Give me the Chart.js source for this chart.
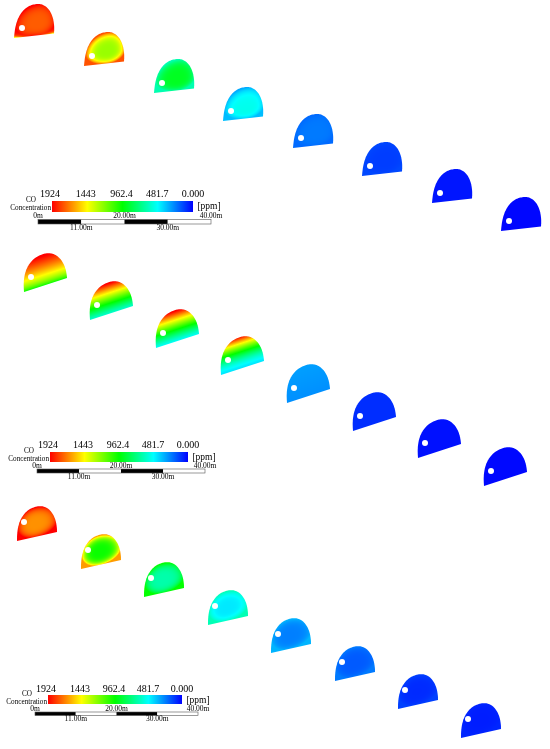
<!DOCTYPE html>
<html>
<head>
<meta charset="utf-8">
<style>
  html, body { margin: 0; padding: 0; background: #fff; }
  canvas { display: block; }
</style>
<script src="https://cdn.jsdelivr.net/npm/chart.js@4"></script>
</head>
<body>
<canvas id="tunnelChart" width="550" height="749"></canvas>
<script>
// base-left corner of every cross section, one list per panel
const topX = [14, 84, 154, 223, 293, 362, 432, 501];
const topY = [38, 66, 93, 121, 148, 176, 203, 231];
const midX = [24, 90, 156, 221, 287, 353, 418, 484];
const midY = [292, 320, 348, 375, 403, 431, 458, 486];
const lowX = [17, 81, 144, 208, 271, 335, 398, 461];
const lowY = [541, 569, 597, 625, 653, 681, 709, 738];

// CO in ppm: floor, crown, wall excess, floor corner drop
const topFloor = [1750, 1250, 900, 530, 230, 115, 40, 12];
const topCrown = [1750, 1250, 900, 490, 230, 115, 40, 12];
const topWall = [174, 520, -270, -170, -30, 20, 0, 0];
const topCorner = [-900, 0, 0, 0, 0, 0, 0, 0];
const midFloor = [850, 560, 480, 430, 270, 85, 30, 15];
const midCrown = [1950, 1950, 1950, 1850, 300, 85, 30, 15];
const midGamma = [0.6, 1.17, 1.2, 1.64, 1, 1, 1, 1];
const midWall = [0, 0, 0, 0, 0, 0, 0, 0];
const midCorner = [0, 0, 0, 0, 0, 0, 0, 0];
const lowFloor = [1650, 980, 640, 440, 240, 170, 80, 55];
const lowCrown = [1650, 980, 640, 440, 240, 170, 80, 55];
const lowWall = [274, 650, 330, 180, 100, 60, 40, 15];
const lowCorner = [0, 0, 0, 0, 0, 0, 0, 0];
const flatGamma = [1, 1, 1, 1, 1, 1, 1, 1];

const colorbarTicks = ['1924', '1443', '962.4', '481.7', '0.000'];
const colorbarPpm = [1924, 1443, 962.4, 481.7, 0];
const scaleUpper = ['0m', '20.00m', '40.00m'];
const scaleLower = ['11.00m', '30.00m'];

const panels = [
  { xs: topX, ys: topY, floor: topFloor, crown: topCrown, wall: topWall, corner: topCorner, gamma: flatGamma,
    base: [40, -4.5], up: [2.6, -31.7], hole: [8, -10], core: [0.55, 0.4],
    bar: [52, 193, 201, 212], tickY: 194, ruler: [38, 211, 219.5, 224] },
  { xs: midX, ys: midY, floor: midFloor, crown: midCrown, wall: midWall, corner: midCorner, gamma: midGamma,
    base: [43, -14], up: [-2.2, -31], hole: [7, -15], core: [0.5, 0.4],
    bar: [50, 188, 452, 462], tickY: 445, ruler: [37, 205, 469, 473] },
  { xs: lowX, ys: lowY, floor: lowFloor, crown: lowCrown, wall: lowWall, corner: lowCorner, gamma: flatGamma,
    base: [40, -9], up: [0, -30], hole: [7, -19], core: [0.45, 0.45],
    bar: [48, 182, 695, 704], tickY: 689, ruler: [35, 198, 712, 715.5] }
];

function ppmColor(v) {
  const f = Math.max(0, Math.min(1, v / 1924)) * 4;
  if (f < 1) return [0, 255 * f, 255];
  if (f < 2) return [0, 255, 255 * (2 - f)];
  if (f < 3) return [255 * (f - 2), 255, 0];
  return [255, 255 * (4 - f), 0];
}

// sprite with the section's base-left corner at its centre
function sectionSprite(panel, i) {
  const size = 130, o = size / 2;
  const field = document.createElement('canvas');
  field.width = field.height = size;
  const fctx = field.getContext('2d');
  const img = fctx.createImageData(size, size);
  const [bx, by] = panel.base, [ux, uy] = panel.up, [cs, ct] = panel.core;
  const det = bx * uy - by * ux;
  for (let py = 0; py < size; py++) {
    for (let px = 0; px < size; px++) {
      const dx = px - o, dy = py - o;
      const s = (dx * uy - dy * ux) / det;
      const t = Math.min(1, Math.max(0, (bx * dy - by * dx) / det));
      const rs = (s - cs) / (s > cs ? 1 - cs : cs);
      const rt = (t - ct) / (t > ct ? 1 - ct : ct);
      const r = Math.min(1, Math.hypot(rs, rt));
      const v = panel.floor[i] + (panel.crown[i] - panel.floor[i]) * Math.pow(t, panel.gamma[i])
        + panel.wall[i] * Math.pow(r, 4)
        + panel.corner[i] * Math.exp(-t / 0.05) * Math.pow(Math.abs(2 * s - 1), 2);
      const c = ppmColor(v), k = (py * size + px) * 4;
      img.data[k] = c[0]; img.data[k + 1] = c[1]; img.data[k + 2] = c[2]; img.data[k + 3] = 255;
    }
  }
  fctx.putImageData(img, 0, 0);

  const shape = document.createElement('canvas');
  shape.width = shape.height = size;
  const sctx = shape.getContext('2d');
  sctx.beginPath();
  for (let a = 0; a <= 80; a++) {
    const ang = Math.PI * (1 - a / 80);
    const c = Math.cos(ang), n = Math.sin(ang);
    // the left shoulder is fuller than the right one
    const sx = c < 0 ? 0.5 - 0.5 * Math.pow(-c, 0.85) : 0.5 + 0.5 * c;
    const sy = Math.pow(n, c < 0 ? 0.78 : 0.95);
    sctx.lineTo(o + bx * sx + ux * sy, o + by * sx + uy * sy);
  }
  sctx.closePath();
  sctx.clip();
  sctx.drawImage(field, 0, 0);
  sctx.globalCompositeOperation = 'destination-out';
  sctx.beginPath();
  sctx.arc(o + panel.hole[0], o + panel.hole[1], 3, 0, Math.PI * 2);
  sctx.fill();

  // soft edge like the scanned figure
  const sprite = document.createElement('canvas');
  sprite.width = sprite.height = size;
  const ctx = sprite.getContext('2d');
  ctx.filter = 'blur(0.5px)';
  ctx.drawImage(shape, 0, 0);
  return sprite;
}

const legendPlugin = {
  id: 'legendPlugin',
  afterDatasetsDraw(chart) {
    const ctx = chart.ctx, sx = chart.scales.x, sy = chart.scales.y;
    ctx.save();
    ctx.textAlign = 'center';
    ctx.textBaseline = 'middle';
    panels.forEach(p => {
      const x0 = sx.getPixelForValue(p.bar[0]), x1 = sx.getPixelForValue(p.bar[1]);
      const y0 = sy.getPixelForValue(p.bar[2]), y1 = sy.getPixelForValue(p.bar[3]);
      const grad = ctx.createLinearGradient(x0, 0, x1, 0);
      colorbarPpm.forEach(v => {
        const c = ppmColor(v);
        grad.addColorStop(1 - v / 1924, `rgb(${c[0]},${c[1]},${c[2]})`);
      });
      ctx.fillStyle = grad;
      ctx.fillRect(x0, y0, x1 - x0, y1 - y0);
      ctx.fillStyle = '#000';

      ctx.font = '10px "Liberation Serif"';
      colorbarTicks.forEach((label, i) => {
        ctx.fillText(label, x0 - 2 + (x1 - x0 + 2) * i / 4, p.tickY);
      });
      ctx.font = '9.5px "Liberation Serif"';
      ctx.fillText('[ppm]', x1 + 16, y0 + 5);
      ctx.font = '7.2px "Liberation Serif"';
      ctx.fillText('CO', x0 - 21, y0 - 0.5);
      ctx.textAlign = 'right';
      ctx.fillText('Concentration', x0 - 1, y0 + 7.5);
      ctx.textAlign = 'center';

      const [r0, r1, ry0, ry1] = p.ruler;
      const quarter = (r1 - r0) / 4;
      [0, 1, 2, 3].forEach(i => {
        ctx.fillStyle = i % 2 ? '#fff' : '#000';
        ctx.fillRect(r0 + i * quarter, ry0, quarter, ry1 - ry0);
      });
      ctx.strokeStyle = '#555';
      ctx.lineWidth = 0.6;
      ctx.strokeRect(r0, ry0, r1 - r0, ry1 - ry0);
      ctx.fillStyle = '#000';
      ctx.font = '7.5px "Liberation Serif"';
      scaleUpper.forEach((label, i) => {
        ctx.fillText(label, r0 + i * 2 * quarter, ry0 - 3);
      });
      scaleLower.forEach((label, i) => {
        ctx.fillText(label, r0 + (i * 2 + 1) * quarter, ry1 + 4);
      });
    });
    ctx.restore();
  }
};

new Chart(document.getElementById('tunnelChart'), {
  type: 'scatter',
  data: {
    datasets: panels.map(p => ({
      data: p.xs.map((x, i) => ({ x: x, y: p.ys[i] })),
      pointStyle: p.xs.map((x, i) => sectionSprite(p, i)),
      clip: false
    }))
  },
  options: {
    responsive: false,
    animation: false,
    events: [],
    layout: { padding: 0, autoPadding: false },
    plugins: { legend: { display: false }, tooltip: { enabled: false } },
    scales: {
      x: { type: 'linear', min: 0, max: 550, display: false },
      y: { type: 'linear', min: 0, max: 749, reverse: true, display: false }
    }
  },
  plugins: [legendPlugin]
});
</script>
</body>
</html>
